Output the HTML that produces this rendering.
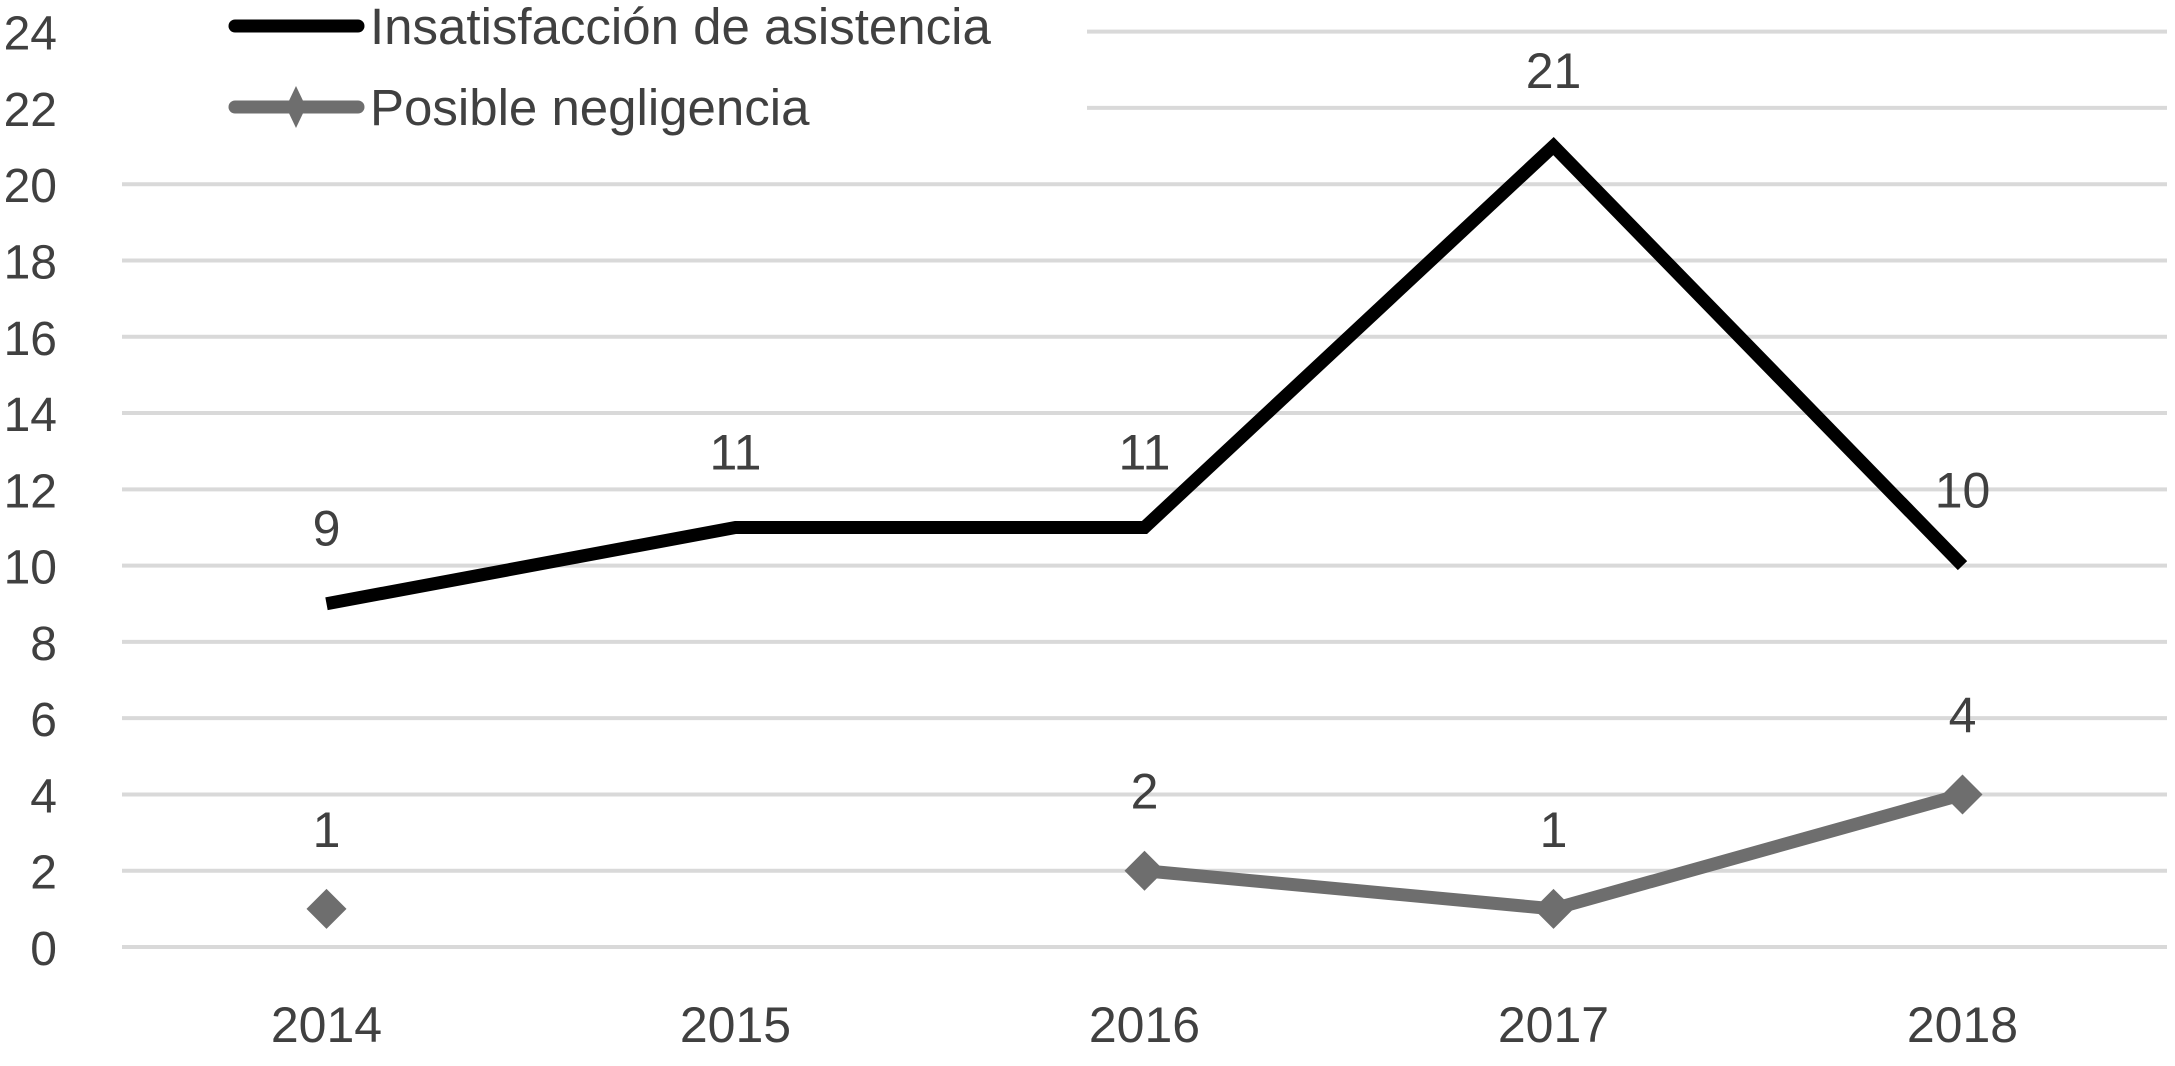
<!DOCTYPE html>
<html><head><meta charset="utf-8"><style>
html,body{margin:0;padding:0;background:#fff;}
svg text{font-family:"Liberation Sans",sans-serif;fill:#404040;}
</style></head><body>
<svg id="chart" width="2175" height="1061" xmlns="http://www.w3.org/2000/svg"></svg>
<script>
const categories=["2014","2015","2016","2017","2018"];
const seriesInsatisfaccion=[9,11,11,21,10];
const seriesNegligencia=[1,null,2,1,4];
const yTicks=[0,2,4,6,8,10,12,14,16,18,20,22,24];
const svg=document.getElementById('chart');
const NS="http://www.w3.org/2000/svg";
const left=122,right=2167,y0=947,unit=38.14;
const step=(right-left)/categories.length;
function x(i){return left+step*(i+0.5);}
function y(v){return y0-v*unit;}
function mk(t,a,p){const e=document.createElementNS(NS,t);for(const k in a)e.setAttribute(k,a[k]);(p||svg).appendChild(e);return e;}
const grid=mk('g',{});


yTicks.forEach(v=>{
  const l=mk('line',{x1:left,x2:right,y1:y(v),y2:y(v),stroke:'#d9d9d9','stroke-width':4},grid);
  
  
  const t=mk('text',{x:57,y:y(v)+18,'text-anchor':'end','font-size':48});
  t.textContent=v;
  
  
});
categories.forEach((c,i)=>{
  const t=mk('text',{x:x(i),y:1042,'text-anchor':'middle','font-size':50});
  t.textContent=c;
  
  
});
const lb=mk('rect',{x:left,y:0,width:965,height:125,fill:'#fff'});


let d='';
seriesInsatisfaccion.forEach((v,i)=>{d+=(i?'L':'M')+x(i)+' '+y(v);});
const p1=mk('path',{d:d,fill:'none',stroke:'#000','stroke-width':13,'stroke-linejoin':'miter'});


seriesInsatisfaccion.forEach((v,i)=>{
  const t=mk('text',{x:x(i),y:y(v)-58,'text-anchor':'middle','font-size':50});
  t.textContent=v;
  
  
});
let d2='',pen=false;
seriesNegligencia.forEach((v,i)=>{
  if(v===null){pen=false;return;}
  d2+=(pen?'L':'M')+x(i)+' '+y(v);pen=true;
});
const p2=mk('path',{d:d2,fill:'none',stroke:'#6e6e6e','stroke-width':13});


seriesNegligencia.forEach((v,i)=>{
  if(v===null)return;
  const cx=x(i),cy=y(v),r=20;
  const m=mk('polygon',{points:`${cx},${cy-r} ${cx+r},${cy} ${cx},${cy+r} ${cx-r},${cy}`,fill:'#6e6e6e'});
  
  
  const t=mk('text',{x:cx,y:cy-62,'text-anchor':'middle','font-size':50});
  t.textContent=v;
  
  
});
const lg=mk('g',{});


const l1=mk('line',{x1:235,x2:358,y1:26,y2:26,stroke:'#000','stroke-width':13,'stroke-linecap':'round'},lg);


const t1=mk('text',{x:370,y:44,'font-size':51},lg);
t1.textContent='Insatisfacción de asistencia';


const l2=mk('line',{x1:235,x2:358,y1:107,y2:107,stroke:'#6e6e6e','stroke-width':13,'stroke-linecap':'round'},lg);


const dm=mk('polygon',{points:'296,86 306,107 296,128 286,107',fill:'#6e6e6e'},lg);


const t2=mk('text',{x:370,y:125,'font-size':51},lg);
t2.textContent='Posible negligencia';


</script>
</body></html>
